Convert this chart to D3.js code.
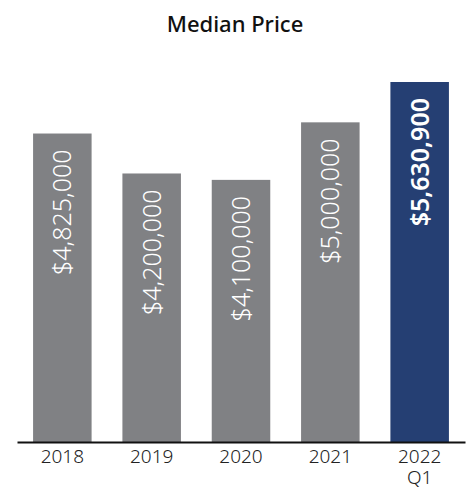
<!DOCTYPE html>
<html><head><meta charset="utf-8">
<script src="https://cdn.jsdelivr.net/npm/d3@7"></script>
<style>body{margin:0;background:#fff}</style>
</head><body>
<svg id="c" width="470" height="491"></svg>
<script>
const categories = ["2018", "2019", "2020", "2021", "2022\nQ1"];
const values = [4825000, 4200000, 4100000, 5000000, 5630900];
const labels = ["$4,825,000", "$4,200,000", "$4,100,000", "$5,000,000", "$5,630,900"];
const highlight = [false, false, false, false, true];

const svg = d3.select("#c");
const baseY = 442;
const x = d3.scaleBand().domain(categories).range([17, 465]).paddingInner(0.345).paddingOuter(0.18);
const y = d3.scaleLinear().domain([0, 5630900]).range([baseY, 82]);

svg.append("text").attr("x", 235).attr("y", 32).attr("text-anchor", "middle")
  .attr("font-family", "'Noto Sans',sans-serif").attr("font-size", 22).attr("font-weight", 500)
  .attr("fill", "#111").text("Median Price");

const g = svg.append("g");
g.selectAll("rect").data(values).join("rect")
  .attr("x", (d, i) => x(categories[i]))
  .attr("width", x.bandwidth())
  .attr("y", d => y(d))
  .attr("height", d => baseY - y(d))
  .attr("fill", (d, i) => highlight[i] ? "#253f73" : "#808184");

g.selectAll("text.v").data(values).join("text").attr("class", "v")
  .attr("transform", (d, i) => `translate(${x(categories[i]) + x.bandwidth() / 2 + 9},${y(d) + 16}) rotate(-90)`)
  .attr("text-anchor", "end")
  .attr("font-family", "'Noto Sans',sans-serif")
  .attr("font-size", 25)
  .attr("font-weight", (d, i) => highlight[i] ? 600 : 300)
  .attr("fill", "#fff")
  .text((d, i) => labels[i]);

const axis = d3.axisBottom(x).tickSize(0).tickPadding(8);
const ag = svg.append("g").attr("transform", `translate(0,${baseY})`).call(axis);
ag.select(".domain").attr("stroke", "#111").attr("stroke-width", 2);
ag.selectAll(".tick text").attr("font-family", "'Noto Sans',sans-serif").attr("font-size", 19).attr("font-weight", 300).attr("fill", "#222")
  .each(function (d) {
    const t = d3.select(this); const parts = d.split("\n"); t.text(null);
    parts.forEach((p, k) => t.append("tspan").attr("x", 0).attr("dy", k === 0 ? "0.71em" : "1.06em").text(p));
  });
</script>
</body></html>
